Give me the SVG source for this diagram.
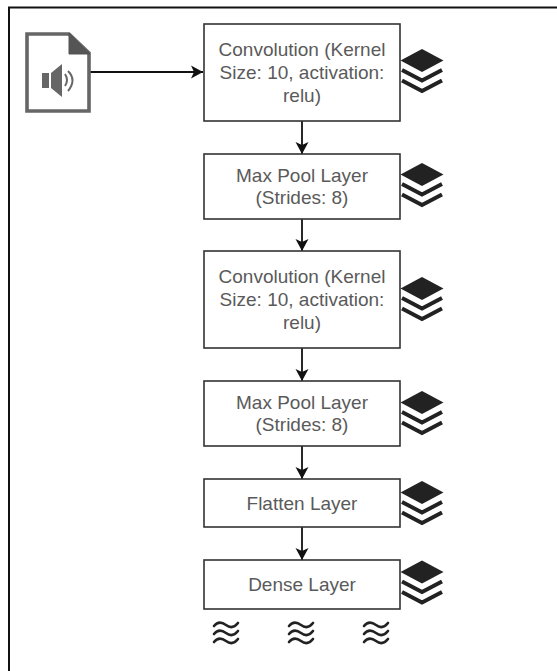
<svg xmlns="http://www.w3.org/2000/svg" width="557" height="671" viewBox="0 0 557 671" xmlns:xlink="http://www.w3.org/1999/xlink">
<style>
.box{fill:#fff;stroke:#333;stroke-width:1.6}
.lbl{font-family:"Liberation Sans",Arial,sans-serif;font-size:19px;fill:#5a5a5a;text-anchor:middle}
.conn{fill:none;stroke:#111;stroke-width:1.8}
.wave{fill:none;stroke:#222;stroke-width:2.6;stroke-linecap:round}
.chev{fill:none;stroke:#222;stroke-width:4}
</style>
<defs>
<marker id="arr" markerUnits="userSpaceOnUse" markerWidth="14" markerHeight="14" refX="12" refY="7" orient="auto"><path d="M0 0.500L12 7L0 13.500L3 7Z" fill="#111"/></marker>
<g id="stack"><path d="M0 -11.500L21.500 0L0 11.500L-21.500 0Z" fill="#222"/><path class="chev" d="M-20 9.500L0 20L20 9.500"/><path class="chev" d="M-20 20L0 30.500L20 20"/></g>
<g id="waves"><path class="wave" d="M-12 -6C-8 -11 -4 -10 0 -7S8 -4 12 -9"/><path class="wave" d="M-12 2C-8 -3 -4 -2 0 1S8 4 12 -1"/><path class="wave" d="M-12 10C-8 5 -4 6 0 9S8 12 12 7"/></g>
</defs>
<rect width="557" height="671" fill="#fff"/>
<path d="M9 671V7.500H557" fill="none" stroke="#111" stroke-width="2"/>
<g id="connectors">
<path class="conn" marker-end="url(#arr)" d="M90 72H203"/>
<path class="conn" marker-end="url(#arr)" d="M302 121V154"/>
<path class="conn" marker-end="url(#arr)" d="M302 219V251"/>
<path class="conn" marker-end="url(#arr)" d="M302 348V381"/>
<path class="conn" marker-end="url(#arr)" d="M302 446V479"/>
<path class="conn" marker-end="url(#arr)" d="M302 527V560"/>
</g>
<g id="audio-file">
<path d="M27 34H69L89 53V111H27Z" fill="#fff" stroke="#666" stroke-width="3.600"/>
<path d="M69 33L90 54H69Z" fill="#555" stroke="#555" stroke-width="1"/>
<path d="M42 73H49V88H42Z" fill="#666"/>
<path d="M51 73L62 64V97L51 88Z" fill="#666"/>
<path d="M65 74Q69 80 65 86M68 71Q77 80 68 91" fill="none" stroke="#666" stroke-width="2"/>
</g>
<g id="conv1"><rect class="box" x="204" y="24" width="196" height="97"/><text class="lbl" x="302" y="56">Convolution (Kernel</text><text class="lbl" x="302" y="79">Size: 10, activation:</text><text class="lbl" x="302" y="102">relu)</text></g>
<g id="pool1"><rect class="box" x="204" y="154" width="196" height="65"/><text class="lbl" x="302" y="182">Max Pool Layer</text><text class="lbl" x="302" y="204">(Strides: 8)</text></g>
<g id="conv2"><rect class="box" x="204" y="251" width="196" height="97"/><text class="lbl" x="302" y="283">Convolution (Kernel</text><text class="lbl" x="302" y="306">Size: 10, activation:</text><text class="lbl" x="302" y="329">relu)</text></g>
<g id="pool2"><rect class="box" x="204" y="381" width="196" height="65"/><text class="lbl" x="302" y="409">Max Pool Layer</text><text class="lbl" x="302" y="431">(Strides: 8)</text></g>
<g id="flatten"><rect class="box" x="204" y="479" width="196" height="48"/><text class="lbl" x="302" y="510">Flatten Layer</text></g>
<g id="dense"><rect class="box" x="204" y="560" width="196" height="49"/><text class="lbl" x="302" y="591">Dense Layer</text></g>
<use id="stack1" xlink:href="#stack" href="#stack" x="422" y="60.500"/>
<use id="stack2" xlink:href="#stack" href="#stack" x="422" y="174.500"/>
<use id="stack3" xlink:href="#stack" href="#stack" x="422" y="288.500"/>
<use id="stack4" xlink:href="#stack" href="#stack" x="422" y="402.500"/>
<use id="stack5" xlink:href="#stack" href="#stack" x="422" y="492.500"/>
<use id="stack6" xlink:href="#stack" href="#stack" x="422" y="572"/>
<use id="wave1" xlink:href="#waves" href="#waves" x="226" y="632"/>
<use id="wave2" xlink:href="#waves" href="#waves" x="301" y="632"/>
<use id="wave3" xlink:href="#waves" href="#waves" x="376" y="632"/>
</svg>
